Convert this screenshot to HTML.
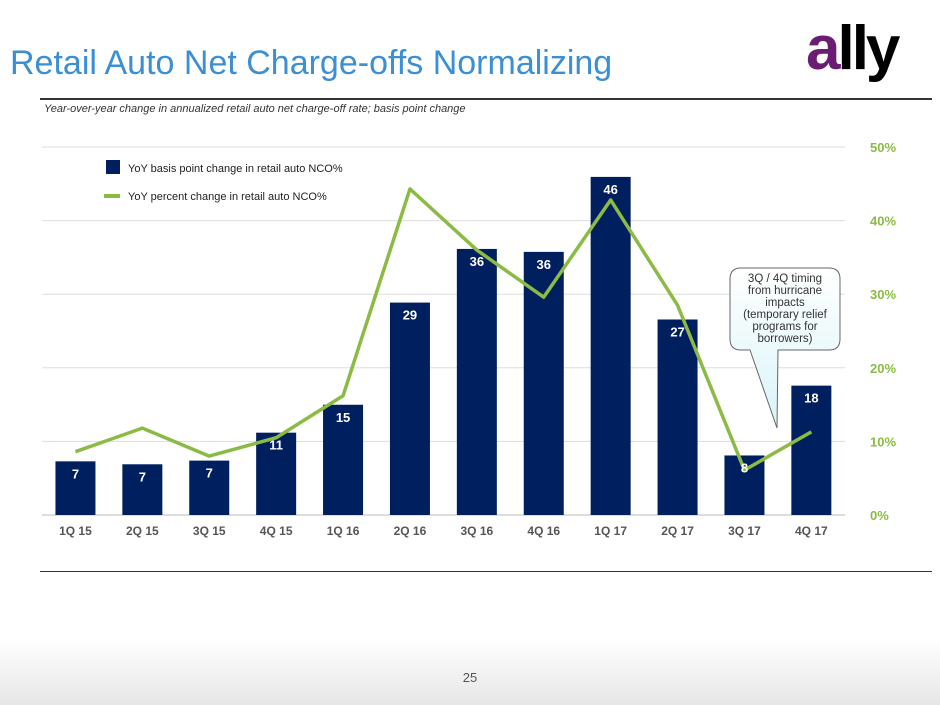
<!DOCTYPE html>
<html><head><meta charset="utf-8"><style>
body{margin:0;width:940px;height:705px;overflow:hidden;background:#fff;font-family:"Liberation Sans",sans-serif;position:relative}
.abs{position:absolute}
</style></head><body>
<div class="abs" style="left:10px;top:44px;font-size:34px;color:#3b8fd2">Retail Auto Net Charge-offs Normalizing</div>
<div class="abs" style="left:806px;top:14px;font-size:62px;font-weight:bold;letter-spacing:-3px;line-height:70px"><span style="color:#6b1c73">a</span><span style="color:#000">lly</span></div>
<div class="abs" style="left:40px;top:98px;width:892px;height:2px;background:#333"></div>
<div class="abs" style="left:44px;top:103px;font-size:11px;font-style:italic;color:#333">Year-over-year change in annualized retail auto net charge-off rate; basis point change</div>
<div class="abs" style="left:40px;top:571px;width:892px;height:1px;background:#333"></div>
<div class="abs" style="left:0;top:640px;width:940px;height:65px;background:linear-gradient(#fff,#e6e6e6)"></div>
<div class="abs" style="left:0;width:940px;top:670px;text-align:center;font-size:13px;color:#555">25</div>
<svg class="abs" style="left:0;top:0" width="940" height="705">
<g id="grid"></g><g id="bars"></g><g id="line"></g><g id="labels"></g>
<rect x="106" y="160" width="14" height="14" fill="#001f5f"/>
<text x="128" y="172" font-size="11" fill="#222">YoY basis point change in retail auto NCO%</text>
<line x1="104" y1="196" x2="120" y2="196" stroke="#8bbb44" stroke-width="4"/>
<text x="128" y="200" font-size="11" fill="#222">YoY percent change in retail auto NCO%</text>
<defs><linearGradient id="cg" x1="0" y1="0" x2="0" y2="1"><stop offset="0" stop-color="#ffffff"/><stop offset="1" stop-color="#d8f4f8"/></linearGradient></defs>
<path d="M741,268 H829 Q840,268 840,279 V339 Q840,350 829,350 H778 L777,428 L750,350 H741 Q730,350 730,339 V279 Q730,268 741,268 Z" fill="url(#cg)" stroke="#666" stroke-width="1"/>
<text font-size="11.5" fill="#333" text-anchor="middle"><tspan x="785" y="282">3Q / 4Q timing</tspan><tspan x="785" y="294">from hurricane</tspan><tspan x="785" y="306">impacts</tspan><tspan x="785" y="318">(temporary relief</tspan><tspan x="785" y="330">programs for</tspan><tspan x="785" y="342">borrowers)</tspan></text>
</svg>
<script>
const categories=["1Q 15","2Q 15","3Q 15","4Q 15","1Q 16","2Q 16","3Q 16","4Q 16","1Q 17","2Q 17","3Q 17","4Q 17"];
const barValues=[7.3,6.9,7.4,11.2,15.0,28.9,36.2,35.8,46.0,26.6,8.1,17.6];
const barLabels=["7","7","7","11","15","29","36","36","46","27","8","18"];
const lineValues=[8.6,11.8,8.0,10.5,16.2,44.3,36.0,29.6,42.8,28.5,6.1,11.3];
const yTicks=[0,10,20,30,40,50];
const yTickLabels=["0%","10%","20%","30%","40%","50%"];
const NS="http://www.w3.org/2000/svg";
const x0=42,step=66.9,base=515;
const xc=i=>x0+step*(i+0.5);
const yb=v=>base-v*7.35;
const yp=v=>base-v*7.36;
function mk(t,a,p){const e=document.createElementNS(NS,t);for(const k in a)e.setAttribute(k,a[k]);document.getElementById(p).appendChild(e);return e;}
yTicks.forEach((t,i)=>{
 const l=mk('line',{x1:42,x2:845,y1:yp(t),y2:yp(t),stroke:i==0?'#bbb':'#ddd','stroke-width':1},'grid');
 
 
 const tx=mk('text',{x:870,y:yp(t)+5,'font-size':13,'font-weight':'bold',fill:'#8bbb44'},'grid');
 tx.textContent=yTickLabels[i];
 
 
});
categories.forEach((c,i)=>{
 const r=mk('rect',{x:xc(i)-20,y:yb(barValues[i]),width:40,height:base-yb(barValues[i]),fill:'#001f5f'},'bars');
 
 
 const lb=mk('text',{x:xc(i),y:yb(barValues[i])+17,'font-size':13,'font-weight':'bold',fill:'#fff','text-anchor':'middle'},'labels');
 lb.textContent=barLabels[i];
 
 
 const xt=mk('text',{x:xc(i),y:535,'font-size':12,'font-weight':'bold',fill:'#555','text-anchor':'middle'},'labels');
 xt.textContent=c;
 
 
});
const pl=mk('polyline',{points:lineValues.map((v,i)=>xc(i)+','+yp(v)).join(' '),fill:'none',stroke:'#8bbb44','stroke-width':3.5,'stroke-linejoin':'round'},'line');


</script>
</body></html>
